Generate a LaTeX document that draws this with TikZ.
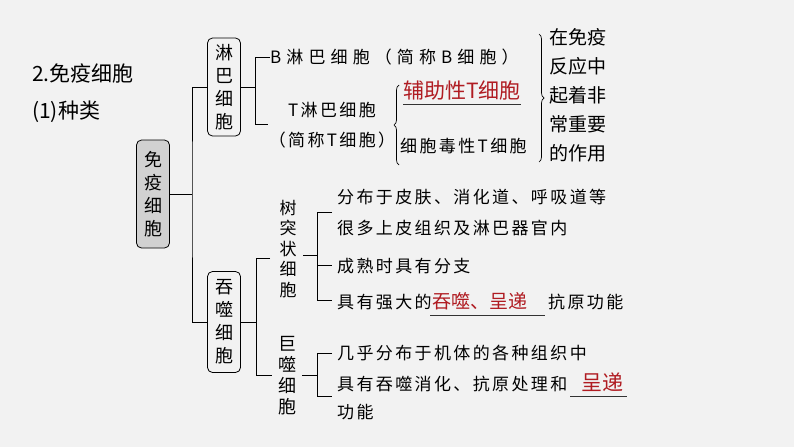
\documentclass[tikz,border=0pt]{standalone}
\usepackage{fontspec}
\setmainfont{Noto Sans CJK SC}
\newfontfamily\spaced[LetterSpace=14]{Noto Sans CJK SC}
\newfontfamily\wide[LetterSpace=30]{Noto Sans CJK SC}
\usetikzlibrary{decorations.pathreplacing}
\definecolor{bgray}{HTML}{F2F2F2}
\definecolor{dred}{HTML}{B01C22}
\tikzset{
  vbox/.style={draw, rounded corners=5pt, line width=0.8pt, inner sep=3pt, align=center,
    font=\fontsize{18}{23}\selectfont, minimum width=33pt},
  vtxt/.style={inner sep=0pt, align=center, font=\fontsize{18}{21}\selectfont},
  txt/.style={inner sep=0pt, anchor=west, font=\spaced\fontsize{17}{20}\selectfont},
  red/.style={text=dred},
  tree/.style={line width=0.8pt},
  ul/.style={line width=0.8pt, draw=black!80},
}
\begin{document}
\begin{tikzpicture}[x=1pt,y=-1pt]
\fill[bgray] (0,0) rectangle (794,447);
\useasboundingbox (0,0) rectangle (794,447);

% Title
\node[txt, font=\fontsize{21}{22}\selectfont] (title) at (32,73) {2.免疫细胞};
\node[txt, font=\fontsize{21}{22}\selectfont] (kind) at (32,112) {(1)种类};

% Boxes
\node[vbox, fill=black!18, minimum height=108pt] (immune) at (153,194) {免\\疫\\细\\胞};
\node[vbox, minimum height=98pt] (lymph) at (224,87) {淋\\巴\\细\\胞};
\node[vbox, minimum height=101pt] (phago) at (224,322) {吞\\噬\\细\\胞};

% Level 1
\coordinate (j1) at (192,194);
\draw[tree] (immune.east) -- (j1);
\draw[tree] (lymph.west) -| (j1) |- (phago.west);

% Lymphocytes
\node[txt, font=\wide\fontsize{17}{20}\selectfont] (bcell) at (270,57) {B淋巴细胞（简称B细胞）};
\node[vtxt, font=\spaced\fontsize{17}{30}\selectfont] (tcell) at (332,125) {T淋巴细胞\\（简称T细胞）};
\draw[tree] (lymph.east) -- (255,87);
\draw[tree] (bcell.west) -| (255,124) -- (268,124);
\draw[decorate, decoration={brace, amplitude=5pt}, line width=0.7pt] (399,165) -- (399,85);
\node[txt, red, font=\fontsize{21}{22}\selectfont] (helper) at (403,91) {辅助性T细胞};
\draw[ul] (403,104) -- (helper.east |- 0,104);
\node[txt] (killer) at (400,146) {细胞毒性T细胞};
\draw[decorate, decoration={brace, amplitude=5pt}, line width=0.7pt] (539,34) -- (539,162);
\node[vtxt, font=\fontsize{19}{29}\selectfont] (role) at (578,95) {在免疫\\反应中\\起着非\\常重要\\的作用};

% Phagocytes
\node[vtxt, font=\fontsize{17}{20.5}\selectfont] (dend) at (288,249) {树\\突\\状\\细\\胞};
\node[vtxt] (macro) at (287,376) {巨\\噬\\细\\胞};
\draw[tree] (phago.east) -- (256,322);
\draw[tree] (270,258) -| (256,375) -- (272,375);

\draw[tree] (303,255) -- (317,255);
\draw[tree] (332,212) -| (317,300) -- (332,300);
\draw[tree] (317,265) -- (332,265);
\node[txt] (d1) at (337,197) {分布于皮肤、消化道、呼吸道等};
\node[txt] (d2) at (337,228) {很多上皮组织及淋巴器官内};
\node[txt] (d3) at (337,266) {成熟时具有分支};
\node[txt] (d4) at (337,302) {具有强大的};
\node[txt, red, font=\fontsize{19}{20}\selectfont] (d4r) at (432,301) {吞噬、呈递};
\node[txt] (d4e) at (548,302) {抗原功能};
\draw[ul] (430,315) -- (545,315);

\draw[tree] (302,375) -- (317,375);
\draw[tree] (332,353) -| (317,396) -- (332,396);
\node[txt] (m1) at (337,353) {几乎分布于机体的各种组织中};
\node[txt] (m2) at (337,384) {具有吞噬消化、抗原处理和};
\node[txt, red, font=\fontsize{21}{22}\selectfont] (m2r) at (581,382) {呈递};
\draw[ul] (570,396) -- (627,396);
\node[txt] (m3) at (337,412) {功能};
\end{tikzpicture}
\end{document}
